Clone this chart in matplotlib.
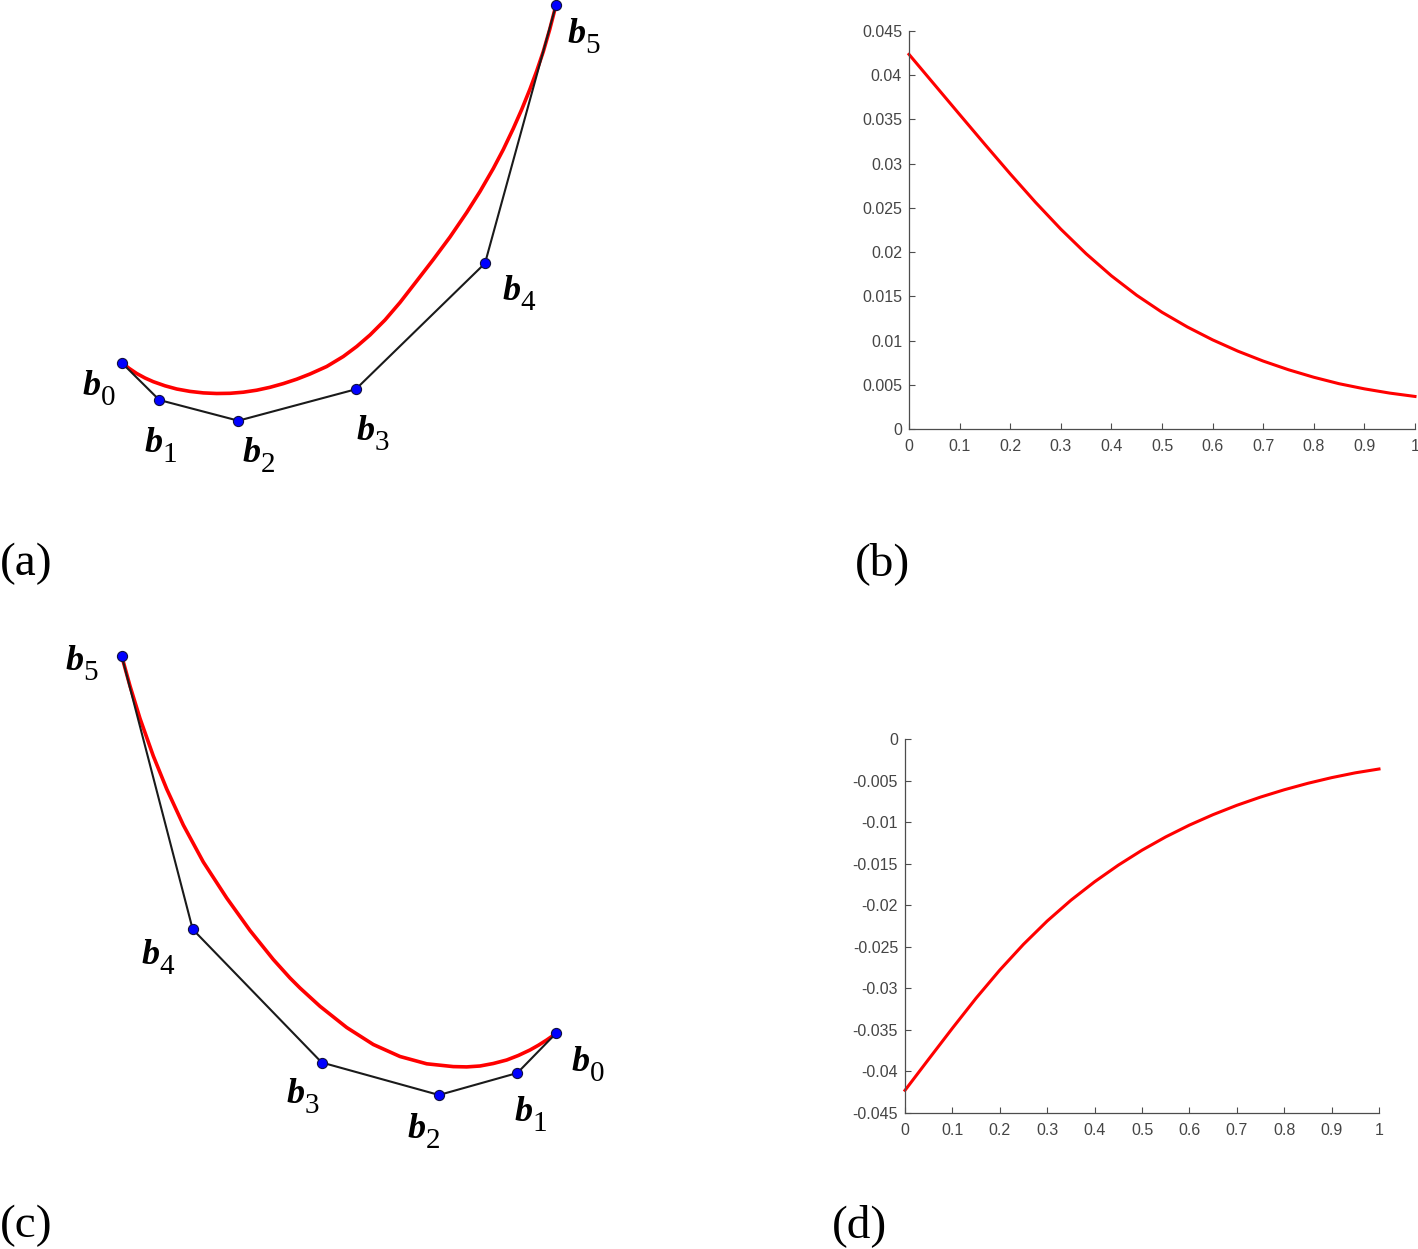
import matplotlib
matplotlib.use("Agg")
import matplotlib.pyplot as plt

plt.rcParams['axes.unicode_minus'] = False

# ---------------- data ----------------
# panel (a): control polygon (picture units, y downward)
a_ctrl_x = [121.7, 159.3, 238.3, 355.7, 485.0, 556.0]
a_ctrl_y = [362.7, 400.0, 420.7, 389.3, 263.3, 5.0]
a_curve_x = [121.7, 129.0, 136.7, 145.0, 153.3, 165.0, 176.7, 190.0, 203.3, 216.7,
             230.0, 243.3, 256.7, 270.0, 283.3, 296.7, 310.0, 326.7, 343.3, 356.7,
             370.0, 385.0, 400.0, 416.7, 433.3, 450.0, 466.7, 480.0, 493.3, 503.3,
             513.3, 521.7, 530.0, 536.7, 543.3, 549.7, 556.0]
a_curve_y = [362.3, 368.3, 373.5, 378.0, 381.7, 385.8, 389.0, 391.4, 392.9, 393.5,
             393.3, 392.2, 390.2, 387.3, 383.6, 379.2, 374.0, 366.5, 356.5, 346.5,
             335.0, 320.0, 302.5, 281.0, 259.5, 237.0, 212.5, 191.5, 168.5, 149.5,
             128.5, 109.5, 89.0, 71.0, 51.5, 29.5, 5.0]
a_labels = ['0', '1', '2', '3', '4', '5']
a_label_x = [83, 145, 243, 357, 503, 568]
a_label_y = [395, 452, 462, 440, 300, 43]

# panel (c)
c_ctrl_x = [556.0, 517.3, 439.0, 321.7, 192.7, 121.7]
c_ctrl_y = [1033.3, 1073.0, 1095.0, 1062.5, 929.3, 656.0]
c_curve_x = [121.7, 130.0, 140.0, 153.3, 166.7, 183.3, 203.3, 226.7, 250.0, 273.3,
             290.0, 300.0, 320.0, 346.7, 373.3, 400.0, 426.7, 453.3, 466.7, 480.0,
             493.3, 506.7, 518.3, 530.0, 538.3, 546.7, 551.3, 556.0]
c_curve_y = [656.0, 686.0, 718.5, 756.0, 789.0, 825.0, 862.0, 898.0, 930.5, 959.5,
             978.0, 988.0, 1006.3, 1027.5, 1044.5, 1056.5, 1063.8, 1066.6, 1066.9, 1066.0,
             1063.5, 1060.0, 1055.5, 1050.0, 1045.3, 1040.0, 1036.8, 1033.3]
c_labels = ['0', '1', '2', '3', '4', '5']
c_label_x = [572, 515, 408, 287, 142, 66]
c_label_y = [1071, 1121, 1138, 1103, 964, 670]

# panel (b) and (d) curves
t_vals = [0.0, 0.05, 0.1, 0.15, 0.2, 0.25, 0.3, 0.35, 0.4, 0.45, 0.5,
          0.55, 0.6, 0.65, 0.7, 0.75, 0.8, 0.85, 0.9, 0.95, 1.0]
b_vals = [0.04236, 0.03896, 0.03556, 0.03218, 0.02885, 0.02563, 0.02260, 0.01982,
          0.01732, 0.01512, 0.01320, 0.01154, 0.01008, 0.00880, 0.00768, 0.00670,
          0.00585, 0.00512, 0.00454, 0.00406, 0.00368]
d_vals = [-0.04227, -0.03852, -0.03480, -0.03118, -0.02780, -0.02470, -0.02190,
          -0.01940, -0.01718, -0.01518, -0.01338, -0.01178, -0.01036, -0.00910,
          -0.00798, -0.00699, -0.00611, -0.00533, -0.00465, -0.00407, -0.00361]

x_ticks = [0, 0.1, 0.2, 0.3, 0.4, 0.5, 0.6, 0.7, 0.8, 0.9, 1.0]
x_ticklabels = ['0', '0.1', '0.2', '0.3', '0.4', '0.5', '0.6', '0.7', '0.8', '0.9', '1']
b_yticks = [0, 0.005, 0.01, 0.015, 0.02, 0.025, 0.03, 0.035, 0.04, 0.045]
b_yticklabels = ['0', '0.005', '0.01', '0.015', '0.02', '0.025', '0.03', '0.035', '0.04', '0.045']
d_yticks = [0, -0.005, -0.01, -0.015, -0.02, -0.025, -0.03, -0.035, -0.04, -0.045]
d_yticklabels = ['0', '-0.005', '-0.01', '-0.015', '-0.02', '-0.025', '-0.03', '-0.035', '-0.04', '-0.045']

panel_names = ['(a)', '(b)', '(c)', '(d)']

# ---------------- figure ----------------
W, H = 1418, 1249
fig = plt.figure(figsize=(W / 100, H / 100), dpi=100)
fig.patch.set_facecolor('white')

RED = '#ff0000'
BLUE = '#0000ff'
LINE = '#1a1a1a'
GRAY = '#4d4d4d'
SERIF = 'Liberation Serif'


def bezier_panel(ax, cx, cy, kx, ky, labels, lx, ly):
    ax.plot(kx, ky, color=RED, lw=2.6, solid_capstyle='round',
            solid_joinstyle='round', zorder=2, clip_on=False)
    ax.plot(cx, cy, color=LINE, lw=1.5, zorder=3, clip_on=False)
    ax.plot(cx, cy, 'o', ms=7.3, mfc=BLUE, mec='#101040', mew=0.8, zorder=4, clip_on=False)
    for s, x, y in zip(labels, lx, ly):
        ax.text(x, y, 'b', fontsize=26, family=SERIF, style='italic', weight='bold',
                ha='left', va='baseline', color='black')
        ax.annotate(s, xy=(x, y), xycoords='data', xytext=(12.6, -7.5),
                    textcoords='offset points', fontsize=21, family=SERIF,
                    ha='left', va='baseline', color='black')
    ax.axis('off')


# panel (a) axes: picture units x 0..700, y 0..500
ax_a = fig.add_axes([0, 1 - 500 / H, 700 / W, 500 / H])
ax_a.set_xlim(0, 700)
ax_a.set_ylim(500, 0)
bezier_panel(ax_a, a_ctrl_x, a_ctrl_y, a_curve_x, a_curve_y, a_labels, a_label_x, a_label_y)

# panel (c) axes: picture units x 0..700, y 620..1249
ax_c = fig.add_axes([0, 0, 700 / W, 629 / H])
ax_c.set_xlim(0, 700)
ax_c.set_ylim(1249, 620)
bezier_panel(ax_c, c_ctrl_x, c_ctrl_y, c_curve_x, c_curve_y, c_labels, c_label_x, c_label_y)


def matlab_axes(ax, yvals, yticks, yticklabels, ylim):
    ax.plot(t_vals, yvals, color=RED, lw=2.2, solid_joinstyle='round', clip_on=False)
    ax.set_xlim(0, 1)
    ax.set_ylim(*ylim)
    ax.set_xticks(x_ticks)
    ax.set_xticklabels(x_ticklabels)
    ax.set_yticks(yticks)
    ax.set_yticklabels(yticklabels)
    for s in ['top', 'right']:
        ax.spines[s].set_visible(False)
    for s in ['left', 'bottom']:
        ax.spines[s].set_color(GRAY)
        ax.spines[s].set_linewidth(0.9)
    ax.tick_params(direction='in', length=4, width=0.8, color=GRAY,
                   labelcolor='#454545', labelsize=11.5)
    ax.tick_params(axis='x', pad=7)
    ax.tick_params(axis='y', pad=5)
    for lab in ax.get_xticklabels() + ax.get_yticklabels():
        lab.set_fontfamily('Liberation Sans')


# panel (b)
ax_b = fig.add_axes([909 / W, 1 - 429 / H, 506 / W, 398 / H])
matlab_axes(ax_b, b_vals, b_yticks, b_yticklabels, (0, 0.045))

# panel (d)
ax_d = fig.add_axes([905 / W, 1 - 1113 / H, 474 / W, 374 / H])
matlab_axes(ax_d, d_vals, d_yticks, d_yticklabels, (-0.045, 0))

# panel letters
label_pos = [(0, 575), (855, 575), (0, 1237), (832, 1237)]
for name, (px, py) in zip(panel_names, label_pos):
    fig.text(px / W, 1 - py / H, name, fontsize=34, family=SERIF,
             ha='left', va='baseline', color='black')

fig.savefig('out.png', dpi=100, facecolor='white')
